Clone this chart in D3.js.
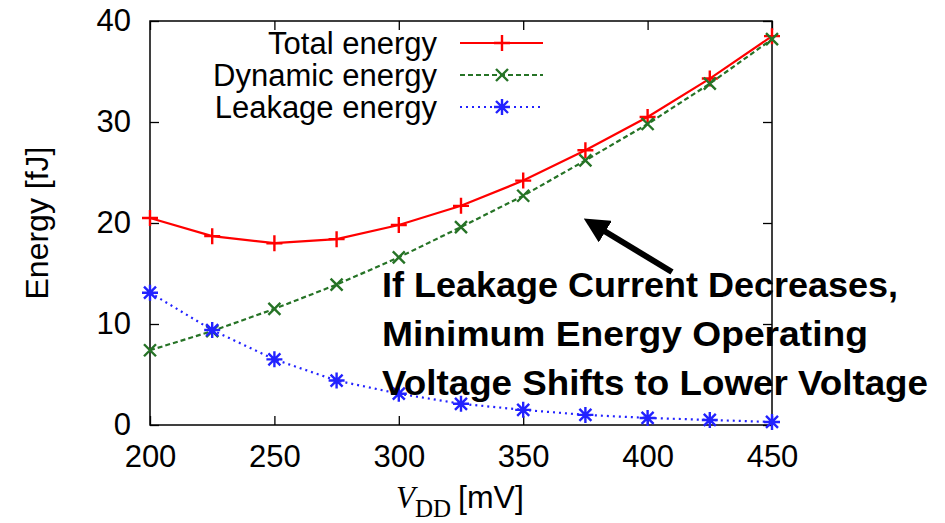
<!DOCTYPE html>
<html>
<head>
<meta charset="utf-8">
<script src="https://cdn.jsdelivr.net/npm/d3@7"></script>
<style>
  body { margin: 0; background: #fff; }
  svg text { font-family: "Liberation Sans", Arial, sans-serif; }
</style>
</head>
<body>
<div id="chart"></div>
<script>
// values
var vdd = [200, 225, 250, 275, 300, 325, 350, 375, 400, 425, 450];
var totalEnergy   = [20.5, 18.7, 18.0, 18.4, 19.8, 21.7, 24.2, 27.2, 30.5, 34.3, 38.5];
var dynamicEnergy = [7.4, 9.3, 11.5, 13.9, 16.6, 19.6, 22.7, 26.2, 29.8, 33.8, 38.2];
var leakageEnergy = [13.1, 9.4, 6.5, 4.4, 3.1, 2.1, 1.5, 1.0, 0.7, 0.5, 0.3];
var xTicks = [200, 250, 300, 350, 400, 450];
var yTicks = [0, 10, 20, 30, 40];
var seriesNames = ["Total energy", "Dynamic energy", "Leakage energy"];
var noteLines = ["If Leakage Current Decreases,", "Minimum Energy Operating", "Voltage Shifts to Lower Voltage"];

var width = 945, height = 523;
var margin = {left: 150, right: 173, top: 21, bottom: 98};

var svg = d3.select("#chart").append("svg")
    .attr("width", width).attr("height", height);

var x = d3.scaleLinear().domain([200, 450]).range([margin.left, width - margin.right]);
var y = d3.scaleLinear().domain([0, 40]).range([height - margin.bottom, margin.top]);

var series = [
    {name: seriesNames[0], values: totalEnergy, color: "#ff0000", dash: null, marker: "plus"},
    {name: seriesNames[1], values: dynamicEnergy, color: "#267326", dash: "5,3", marker: "cross"},
    {name: seriesNames[2], values: leakageEnergy, color: "#2222ff", dash: "2,4", marker: "star"}
];

// axes with inward ticks, mirrored top/right
var tickLen = 9;
svg.append("g").attr("transform", "translate(0," + y(0) + ")")
    .call(d3.axisBottom(x).tickValues(xTicks).tickSizeInner(-tickLen).tickSizeOuter(0).tickPadding(20))
    .call(function(g){ g.select(".domain").remove(); });
svg.append("g").attr("transform", "translate(0," + y(40) + ")")
    .call(d3.axisTop(x).tickValues(xTicks).tickSizeInner(-tickLen).tickSizeOuter(0).tickFormat(""))
    .call(function(g){ g.select(".domain").remove(); });
svg.append("g").attr("transform", "translate(" + x(200) + ",0)")
    .call(d3.axisLeft(y).tickValues(yTicks).tickSizeInner(-tickLen).tickSizeOuter(0).tickPadding(19))
    .call(function(g){ g.select(".domain").remove(); });
svg.append("g").attr("transform", "translate(" + x(450) + ",0)")
    .call(d3.axisRight(y).tickValues(yTicks).tickSizeInner(-tickLen).tickSizeOuter(0).tickFormat(""))
    .call(function(g){ g.select(".domain").remove(); });

svg.selectAll(".tick line").attr("stroke", "#000").attr("stroke-width", 1.3);
svg.selectAll(".tick text").attr("font-size", 31).attr("fill", "#000")
    .attr("font-family", "Liberation Sans, Arial, sans-serif");

svg.append("rect")
    .attr("x", x(200)).attr("y", y(40))
    .attr("width", x(450) - x(200)).attr("height", y(0) - y(40))
    .attr("fill", "none").attr("stroke", "#000").attr("stroke-width", 1.5);

// axis titles
svg.append("text")
    .attr("transform", "translate(48," + ((y(0) + y(40)) / 2) + ") rotate(-90)")
    .attr("text-anchor", "middle").attr("font-size", 32)
    .text("Energy [fJ]");

var xl = svg.append("text").attr("x", 396).attr("y", 508).attr("font-size", 32);
xl.append("tspan").attr("font-family", "Liberation Serif, serif").attr("font-style", "italic")
    .attr("font-size", 31).text("V");
xl.append("tspan").attr("font-family", "Liberation Serif, serif").attr("font-size", 25)
    .attr("dy", 9).text("DD");
xl.append("tspan").attr("x", 458).attr("dy", -9).text("[mV]");

// markers
function markerPath(type, s) {
    var p = d3.path();
    if (type === "plus" || type === "star") {
        p.moveTo(-s, 0); p.lineTo(s, 0);
        p.moveTo(0, -s); p.lineTo(0, s);
    }
    if (type === "cross" || type === "star") {
        var c = s * 0.75;
        p.moveTo(-c, -c); p.lineTo(c, c);
        p.moveTo(-c, c); p.lineTo(c, -c);
    }
    return p.toString();
}

var line = d3.line()
    .x(function(d, i){ return x(vdd[i]); })
    .y(function(d){ return y(d); });

series.forEach(function(s){
    svg.append("path")
        .attr("d", line(s.values))
        .attr("fill", "none")
        .attr("stroke", s.color)
        .attr("stroke-width", 2.2)
        .attr("stroke-dasharray", s.dash);
    svg.selectAll(".m-" + s.marker)
        .data(s.values).enter().append("path")
        .attr("class", "m-" + s.marker)
        .attr("transform", function(d, i){ return "translate(" + x(vdd[i]) + "," + y(d) + ")"; })
        .attr("d", markerPath(s.marker, 8))
        .attr("fill", "none")
        .attr("stroke", s.color)
        .attr("stroke-width", 2.4);
});

// legend
var legend = svg.append("g");
series.forEach(function(s, i){
    var ly = 43 + i * 32;
    legend.append("text")
        .attr("x", 437).attr("y", ly + 11)
        .attr("text-anchor", "end").attr("font-size", 31)
        .text(s.name);
    legend.append("line")
        .attr("x1", 460).attr("x2", 543).attr("y1", ly).attr("y2", ly)
        .attr("stroke", s.color).attr("stroke-width", 2.2)
        .attr("stroke-dasharray", s.dash);
    legend.append("path")
        .attr("transform", "translate(502," + ly + ")")
        .attr("d", markerPath(s.marker, 8))
        .attr("fill", "none").attr("stroke", s.color).attr("stroke-width", 2.4);
});

// annotation
var noteWidths = [516, 486, 546];
noteLines.forEach(function(t, i){
    svg.append("text")
        .attr("x", 382).attr("y", 297 + i * 49)
        .attr("font-family", "Lato, 'Open Sans', sans-serif")
        .attr("font-weight", "bold").attr("font-size", 35)
        .attr("textLength", noteWidths[i]).attr("lengthAdjust", "spacingAndGlyphs")
        .attr("fill", "#000")
        .text(t);
});

svg.append("defs").append("marker")
    .attr("id", "head").attr("viewBox", "0 0 10 10")
    .attr("refX", 2).attr("refY", 5)
    .attr("markerWidth", 4.2).attr("markerHeight", 4.2)
    .attr("orient", "auto")
    .append("path").attr("d", "M0,0 L10,5 L0,10 Z").attr("fill", "#000");

svg.append("line")
    .attr("x1", 672).attr("y1", 272).attr("x2", 601).attr("y2", 229)
    .attr("stroke", "#000").attr("stroke-width", 6)
    .attr("marker-end", "url(#head)");
</script>
</body>
</html>
